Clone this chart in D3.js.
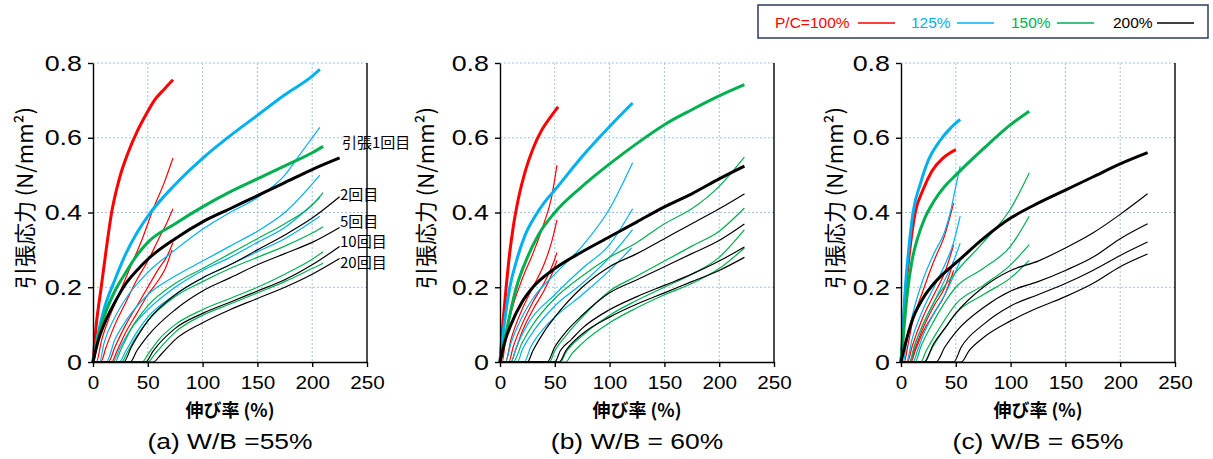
<!DOCTYPE html>
<html><head><meta charset="utf-8">
<script src="https://cdn.jsdelivr.net/npm/d3@7"></script>
<style>
body{margin:0;background:#fff;}
text{font-family:"Liberation Sans",Arial,"Noto Sans CJK JP",sans-serif;}
</style></head>
<body><svg id="chart" width="1213" height="459"></svg>
<script>
// ---------------- data ----------------
const panelTitles = ["(a) W/B =55%", "(b) W/B = 60%", "(c) W/B = 65%"];
const seriesNames = ["P/C=100%", "125%", "150%", "200%"];
const cycleLabels = ["引張1回目", "2回目", "5回目", "10回目", "20回目"];
const xTicks = [0, 50, 100, 150, 200, 250];
const yTicks = [0, 0.2, 0.4, 0.6, 0.8];
const xTitle = "伸び率 (%)";
const yTitle = "引張応力 (N/mm²)";

// each series: cycles 1,2,5,10,20 as [strain %, stress N/mm2]
const a_red = [
  [[0,0],[3,0.1],[7.5,0.2],[12,0.3],[17,0.4],[24,0.49],[32,0.56],[40,0.615],[48,0.66],[56,0.70],[65,0.73],[73,0.755]],
  [[0,0],[3,0],[8,0.06],[15,0.12],[25,0.19],[35,0.26],[45,0.33],[55,0.41],[65,0.48],[73,0.546]],
  [[0,0],[7,0],[12,0.04],[20,0.1],[30,0.16],[40,0.22],[50,0.27],[60,0.33],[67,0.37],[73,0.41]],
  [[0,0],[14,0],[20,0.04],[30,0.1],[40,0.15],[50,0.2],[60,0.25],[67,0.28],[73,0.32]],
  [[0,0],[17,0],[22,0.03],[30,0.08],[40,0.13],[50,0.18],[60,0.22],[66,0.25],[72,0.3]]
];
const a_blue = [
  [[0,0],[5,0.08],[10,0.14],[20,0.22],[30,0.29],[40,0.345],[50,0.39],[75,0.475],[100,0.545],[125,0.605],[150,0.66],[175,0.715],[200,0.765],[207,0.783]],
  [[0,0],[6,0],[10,0.05],[20,0.12],[30,0.17],[50,0.24],[75,0.3],[100,0.355],[125,0.4],[150,0.44],[175,0.5],[190,0.56],[207,0.628]],
  [[0,0],[12,0],[20,0.06],[30,0.11],[50,0.18],[75,0.23],[100,0.27],[125,0.31],[150,0.35],[175,0.4],[207,0.5]],
  [[0,0],[18,0],[25,0.04],[35,0.09],[50,0.14],[75,0.2],[100,0.245],[125,0.28],[150,0.32],[175,0.36],[207,0.44]],
  [[0,0],[24,0],[30,0.03],[40,0.08],[50,0.12],[75,0.18],[100,0.225],[125,0.26],[150,0.295],[175,0.33],[207,0.39]]
];
const a_green = [
  [[0,0],[5,0.07],[10,0.12],[20,0.19],[30,0.24],[40,0.285],[50,0.32],[75,0.37],[100,0.415],[125,0.455],[150,0.49],[175,0.525],[200,0.56],[210,0.577]],
  [[0,0],[20,0],[25,0.03],[35,0.09],[50,0.15],[75,0.21],[100,0.25],[125,0.29],[150,0.33],[175,0.37],[200,0.42],[210,0.453]],
  [[0,0],[26,0],[32,0.03],[40,0.07],[50,0.11],[75,0.175],[100,0.215],[125,0.25],[150,0.28],[175,0.31],[200,0.345],[210,0.362]],
  [[0,0],[45,0],[50,0.02],[60,0.06],[75,0.1],[100,0.14],[125,0.17],[150,0.2],[175,0.235],[200,0.275],[210,0.295]],
  [[0,0],[50,0],[56,0.02],[65,0.05],[75,0.08],[100,0.125],[125,0.155],[150,0.185],[175,0.215],[200,0.25],[210,0.264]]
];
const a_black = [
  [[0,0],[5,0.06],[10,0.1],[20,0.16],[30,0.21],[40,0.245],[50,0.275],[75,0.33],[100,0.375],[125,0.41],[150,0.445],[175,0.48],[200,0.515],[225,0.546]],
  [[0,0],[28,0],[35,0.04],[50,0.11],[75,0.18],[100,0.225],[125,0.26],[150,0.3],[175,0.34],[200,0.385],[225,0.442]],
  [[0,0],[34,0],[40,0.03],[50,0.07],[75,0.14],[100,0.19],[125,0.225],[150,0.26],[175,0.29],[200,0.32],[225,0.36]],
  [[0,0],[48,0],[55,0.03],[75,0.09],[100,0.13],[125,0.16],[150,0.19],[175,0.22],[200,0.26],[225,0.309]],
  [[0,0],[55,0],[62,0.02],[75,0.06],[100,0.105],[125,0.14],[150,0.17],[175,0.2],[200,0.235],[225,0.277]]
];

const b_red = [
  [[0,0],[2,0.08],[5,0.18],[8,0.27],[12,0.36],[17,0.44],[23,0.51],[30,0.57],[38,0.62],[46,0.655],[53,0.683]],
  [[0,0],[2,0],[5,0.06],[10,0.13],[20,0.22],[30,0.29],[40,0.37],[47,0.44],[52,0.527]],
  [[0,0],[5,0],[10,0.06],[20,0.14],[30,0.2],[40,0.26],[47,0.32],[52,0.38]],
  [[0,0],[8,0],[12,0.04],[20,0.1],[30,0.16],[40,0.21],[48,0.26],[52,0.293]],
  [[0,0],[10,0],[14,0.03],[20,0.08],[30,0.14],[40,0.19],[48,0.24],[52,0.272]]
];
const b_blue = [
  [[0,0],[3,0.08],[9,0.2],[15,0.27],[23,0.34],[32,0.39],[40,0.425],[50,0.46],[75,0.55],[100,0.63],[121,0.693]],
  [[0,0],[5,0],[10,0.05],[20,0.12],[30,0.17],[50,0.235],[75,0.31],[100,0.41],[121,0.533]],
  [[0,0],[10,0],[15,0.04],[25,0.1],[50,0.18],[75,0.25],[100,0.314],[121,0.41]],
  [[0,0],[16,0],[20,0.03],[30,0.08],[50,0.15],[75,0.21],[100,0.28],[121,0.354]],
  [[0,0],[22,0],[28,0.04],[40,0.09],[50,0.12],[75,0.18],[100,0.245],[120,0.305]]
];
const b_green = [
  [[0,0],[5,0.07],[10,0.14],[15,0.2],[25,0.28],[35,0.34],[50,0.4],[75,0.47],[100,0.53],[125,0.585],[150,0.635],[175,0.675],[200,0.712],[223,0.742]],
  [[0,0],[12,0],[20,0.05],[30,0.1],[50,0.17],[75,0.23],[100,0.28],[125,0.32],[150,0.37],[175,0.41],[200,0.47],[223,0.548]],
  [[0,0],[45,0],[50,0.03],[60,0.07],[75,0.12],[100,0.19],[125,0.23],[150,0.27],[175,0.31],[200,0.35],[223,0.412]],
  [[0,0],[55,0],[60,0.025],[75,0.07],[100,0.125],[125,0.165],[150,0.2],[175,0.235],[200,0.28],[223,0.354]],
  [[0,0],[60,0],[65,0.02],[75,0.05],[100,0.105],[125,0.145],[150,0.18],[175,0.21],[200,0.25],[223,0.305]]
];
const b_black = [
  [[0,0],[5,0.06],[10,0.1],[20,0.16],[30,0.2],[50,0.25],[75,0.295],[100,0.335],[125,0.375],[150,0.415],[175,0.45],[200,0.49],[223,0.524]],
  [[0,0],[25,0],[30,0.03],[40,0.08],[50,0.12],[75,0.2],[100,0.255],[125,0.29],[150,0.33],[175,0.37],[200,0.41],[223,0.45]],
  [[0,0],[43,0],[50,0.04],[60,0.08],[75,0.125],[100,0.185],[125,0.22],[150,0.255],[175,0.29],[200,0.325],[223,0.369]],
  [[0,0],[50,0],[55,0.03],[65,0.06],[75,0.09],[100,0.14],[125,0.175],[150,0.205],[175,0.235],[200,0.27],[223,0.308]],
  [[0,0],[54,0],[60,0.03],[75,0.075],[100,0.12],[125,0.155],[150,0.185],[175,0.215],[200,0.245],[223,0.28]]
];

const c_red = [
  [[0,0],[2,0.08],[4.5,0.2],[8,0.3],[13,0.4],[20,0.46],[28,0.51],[38,0.545],[45,0.56],[50,0.568]],
  [[0,0],[3,0],[6,0.04],[10,0.1],[20,0.19],[30,0.27],[40,0.34],[48,0.425]],
  [[0,0],[6,0],[10,0.04],[20,0.12],[30,0.18],[40,0.24],[48,0.313]],
  [[0,0],[8,0],[12,0.03],[20,0.09],[30,0.15],[40,0.2],[48,0.27]],
  [[0,0],[9,0],[13,0.03],[20,0.08],[30,0.13],[40,0.18],[48,0.245]]
];
const c_blue = [
  [[0,0],[2,0.1],[4,0.2],[7,0.3],[11,0.4],[18,0.48],[25,0.54],[35,0.59],[45,0.625],[54,0.649]],
  [[0,0],[2,0],[5,0.05],[10,0.12],[20,0.22],[30,0.29],[40,0.35],[45,0.4],[50,0.47],[54,0.524]],
  [[0,0],[5,0],[10,0.06],[20,0.14],[30,0.2],[40,0.26],[48,0.32],[54,0.39]],
  [[0,0],[8,0],[12,0.04],[20,0.1],[30,0.16],[40,0.22],[48,0.27],[54,0.318]],
  [[0,0],[11,0],[15,0.03],[20,0.07],[30,0.13],[40,0.18],[48,0.23],[54,0.27]]
];
const c_green = [
  [[0,0],[3,0.1],[6,0.19],[10,0.27],[15,0.33],[21,0.38],[30,0.43],[40,0.47],[50,0.5],[75,0.57],[100,0.635],[117,0.671]],
  [[0,0],[8,0],[12,0.04],[20,0.1],[30,0.16],[50,0.24],[75,0.32],[100,0.41],[117,0.506]],
  [[0,0],[13,0],[18,0.04],[30,0.11],[50,0.2],[75,0.25],[100,0.31],[117,0.39]],
  [[0,0],[18,0],[23,0.03],[35,0.09],[50,0.155],[75,0.205],[100,0.26],[117,0.314]],
  [[0,0],[22,0],[27,0.03],[40,0.09],[50,0.13],[75,0.18],[100,0.225],[117,0.272]]
];
const c_black = [
  [[0,0],[5,0.06],[10,0.11],[20,0.17],[30,0.21],[40,0.24],[50,0.265],[75,0.33],[100,0.385],[125,0.425],[150,0.46],[175,0.495],[200,0.53],[225,0.56]],
  [[0,0],[21,0],[30,0.05],[40,0.09],[50,0.13],[75,0.2],[100,0.245],[125,0.27],[150,0.305],[175,0.345],[200,0.395],[225,0.45]],
  [[0,0],[32,0],[40,0.04],[50,0.08],[75,0.145],[100,0.19],[125,0.215],[150,0.245],[175,0.28],[200,0.33],[225,0.37]],
  [[0,0],[48,0],[55,0.04],[75,0.1],[100,0.15],[125,0.18],[150,0.21],[175,0.245],[200,0.285],[225,0.321]],
  [[0,0],[55,0],[62,0.03],[75,0.065],[100,0.11],[125,0.145],[150,0.175],[175,0.21],[200,0.255],[225,0.289]]
];

const seriesColors = ["#FF0000", "#00B0F0", "#00B050", "#000000"];
const panelData = [
  [a_red, a_blue, a_green, a_black],
  [b_red, b_blue, b_green, b_black],
  [c_red, c_blue, c_green, c_black]
];

// ---------------- drawing ----------------
const svg = d3.select("#chart");
const panelLeft = [93, 500, 901];
const yTitleX = [33, 434, 843];
const plotW = 274, plotTop = 63, plotBottom = 362;
const cjk = '"Noto Sans CJK JP","Liberation Sans",sans-serif';
const latin = '"Liberation Sans",Arial,sans-serif';

panelData.forEach((series, p) => {
  const L = panelLeft[p];
  const x = d3.scaleLinear().domain([0, 250]).range([L, L + plotW]);
  const y = d3.scaleLinear().domain([0, 0.8]).range([plotBottom, plotTop]);
  const g = svg.append("g");

  // grid
  g.selectAll(".vg").data(xTicks.slice(1, -1)).enter().append("line")
    .attr("x1", d => x(d)).attr("x2", d => x(d)).attr("y1", plotTop).attr("y2", plotBottom)
    .attr("stroke", "#9DC3E6").attr("stroke-width", 1).attr("stroke-dasharray", "2,2");
  g.selectAll(".hg").data(yTicks.slice(1)).enter().append("line")
    .attr("x1", L).attr("x2", L + plotW).attr("y1", d => y(d)).attr("y2", d => y(d))
    .attr("stroke", "#9DC3E6").attr("stroke-width", 1).attr("stroke-dasharray", "2,2");
  // right border
  g.append("line").attr("x1", x(250)).attr("x2", x(250)).attr("y1", plotTop).attr("y2", plotBottom)
    .attr("stroke", "#000").attr("stroke-width", 1.4);

  const line = d3.line().x(d => x(d[0])).y(d => y(d[1])).curve(d3.curveMonotoneX);
  series.forEach((cycles, s) => {
    cycles.slice(1).forEach(c => {
      g.append("path").attr("d", line(c)).attr("fill", "none")
        .attr("stroke", seriesColors[s]).attr("stroke-width", 1.2);
    });
  });
  series.forEach((cycles, s) => {
    g.append("path").attr("d", line(cycles[0])).attr("fill", "none")
      .attr("stroke", seriesColors[s]).attr("stroke-width", 3).attr("stroke-linejoin", "round");
  });

  // axes
  const ya = g.append("g").attr("transform", `translate(${L},0)`)
    .call(d3.axisLeft(y).tickValues(yTicks).tickSize(5).tickSizeOuter(0).tickPadding(6)
      .tickFormat(d => d === 0 ? "0" : d3.format(".1f")(d)));
  ya.selectAll(".tick text").attr("font-size", 22).attr("fill", "#000").style("font-family", latin)
    .attr("x", 0).attr("transform", "translate(-11,0) scale(1.22,1)");
  const xa = g.append("g").attr("transform", `translate(0,${plotBottom})`)
    .call(d3.axisBottom(x).tickValues(xTicks).tickSize(5).tickSizeOuter(0).tickPadding(9));
  xa.selectAll(".tick text").attr("font-size", 18).attr("fill", "#000").style("font-family", latin)
    .attr("transform", "scale(1.15,1)");
  [ya, xa].forEach(a => {
    a.select(".domain").attr("stroke", "#000").attr("stroke-width", 1.4);
    a.selectAll(".tick line").attr("stroke", "#000").attr("stroke-width", 1.4);
  });

  // titles
  const cx = L + plotW / 2;
  g.append("text").attr("x", cx).attr("y", 417).attr("text-anchor", "middle")
    .attr("font-size", 18).attr("font-weight", "bold").style("font-family", cjk).text(xTitle);
  g.append("text").attr("transform", `translate(${cx},449) scale(1.2,1)`).attr("text-anchor", "middle")
    .attr("font-size", 22).style("font-family", latin).text(panelTitles[p]);
  g.append("text").attr("transform", `translate(${yTitleX[p]},198) rotate(-90)`)
    .attr("text-anchor", "middle").attr("font-size", 22).style("font-family", cjk).text(yTitle);
});

// cycle labels in panel (a)
const labelY = [148, 200, 227, 247, 268];
const labelX = [342, 340, 340, 340, 340];
cycleLabels.forEach((t, i) => {
  svg.append("text").attr("x", labelX[i]).attr("y", labelY[i]).attr("font-size", 15)
    .style("font-family", cjk).text(t);
});

// legend
const lg = svg.append("g");
lg.append("rect").attr("x", 758).attr("y", 5).attr("width", 450).attr("height", 33)
  .attr("fill", "#fff").attr("stroke", "#2F3B5C").attr("stroke-width", 1.5);
const legTextX = [775, 911, 1011, 1113];
const legLineX = [858, 957, 1057, 1157];
seriesNames.forEach((n, i) => {
  lg.append("text").attr("x", legTextX[i]).attr("y", 28).attr("font-size", 15.5)
    .attr("fill", i === 3 ? "#000" : seriesColors[i])
    .style("font-family", latin).text(n);
  lg.append("line").attr("x1", legLineX[i]).attr("x2", legLineX[i] + 37).attr("y1", 23).attr("y2", 23)
    .attr("stroke", seriesColors[i]).attr("stroke-width", 1.4);
});
</script></body></html>
